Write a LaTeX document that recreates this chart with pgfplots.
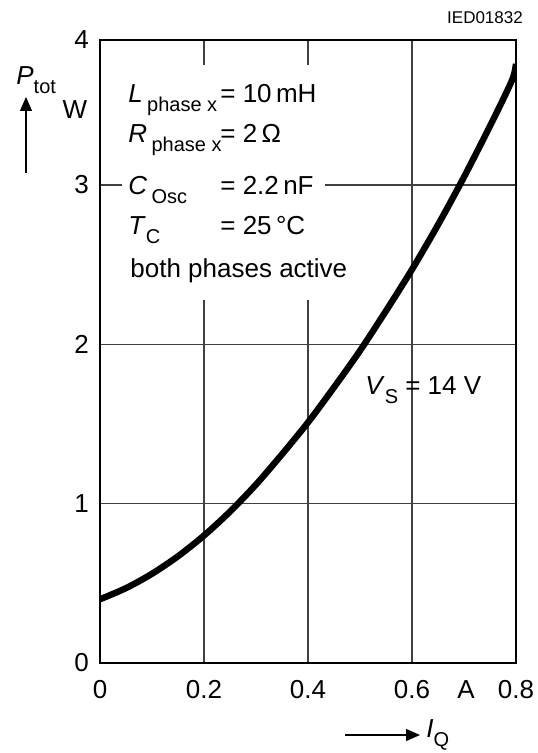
\documentclass[border=0pt]{standalone}
\usepackage{fontspec}
\setmainfont{Liberation Sans}
\usepackage{pgfplots}
\pgfplotsset{compat=1.18}
\usetikzlibrary{arrows.meta}
\begin{document}
\begin{tikzpicture}
\useasboundingbox (-50pt,-45pt) rectangle (218.5pt,331.5pt);
\begin{axis}[
  scale only axis, width=208pt, height=311.5pt,
  xmin=0, xmax=0.8, ymin=0, ymax=3.91,
  xtick={0,0.2,0.4,0.6,0.8}, xticklabels={0,0.2,0.4,0.6,0.8},
  ytick={0,1,2,3,3.91}, yticklabels={0,1,2,3,4},
  grid=major, major grid style={black!75, line width=0.6pt},
  major tick length=0pt,
  axis line style={black, line width=0.8pt},
  tick label style={font=\fontsize{13}{15}\selectfont},
  xticklabel style={yshift=-5pt},
  yticklabel style={xshift=-2pt},
  /pgf/number format/assume math mode=true,
]
% P_tot over I_Q, V_S = 14 V
\addplot[black, line width=3.2pt, smooth] coordinates {
  (0,0.40) (0.05,0.47) (0.1,0.56) (0.15,0.67) (0.2,0.80) (0.25,0.95)
  (0.3,1.12) (0.35,1.31) (0.4,1.51) (0.45,1.73) (0.5,1.96) (0.55,2.21)
  (0.6,2.47) (0.65,2.75) (0.7,3.05) (0.75,3.37) (0.78,3.57)
  (0.795,3.68) (0.8,3.76)};
\end{axis}
% white patch behind the conditions text
\fill[white] (11pt,181.5pt) rectangle (112.5pt,299pt);
\begin{scope}[every node/.style={font=\fontsize{13}{15}\selectfont, inner sep=0pt}]
\def\sub#1{\raisebox{-0.6ex}{\fontsize{10}{12}\selectfont #1}}
\node[anchor=base west] at (14pt,280pt) {\textit{L}\,\sub{phase x}};
\node[anchor=base west] at (14pt,260pt) {\textit{R}\,\sub{phase x}};
\node[anchor=base west] at (14pt,234pt) {\textit{C}\,\sub{Osc}};
\node[anchor=base west] at (14pt,214pt) {\textit{T}\sub{C}};
\node[anchor=base west] at (60pt,280pt) {= 10\,mH};
\node[anchor=base west] at (60pt,260pt) {= 2\,Ω};
\node[anchor=base west] at (60pt,234pt) {= 2.2\,nF};
\node[anchor=base west] at (60pt,214pt) {= 25\,°C};
\node[anchor=base west] at (15pt,192.5pt) {both phases active};
\node[anchor=base west] at (132.5pt,134pt) {\textit{V}\sub{S} = 14 V};
\node at (183pt,-13.5pt) {A};
\node at (-12.5pt,276.5pt) {W};
\node[anchor=base west] at (-42pt,289pt) {\textit{P}\sub{tot}};
\node[anchor=west] at (163pt,-36pt) {\textit{I}\sub{Q}};
\node[font=\fontsize{8.5}{10}\selectfont] at (192.5pt,322.5pt) {IED01832};
\end{scope}
\draw[-{Triangle[length=7pt,width=6pt]}, line width=0.6pt] (-37pt,245pt) -- (-37pt,283pt);
\draw[-{Triangle[length=7pt,width=6pt]}, line width=0.6pt] (122.5pt,-36pt) -- (160pt,-36pt);
\end{tikzpicture}
\end{document}
